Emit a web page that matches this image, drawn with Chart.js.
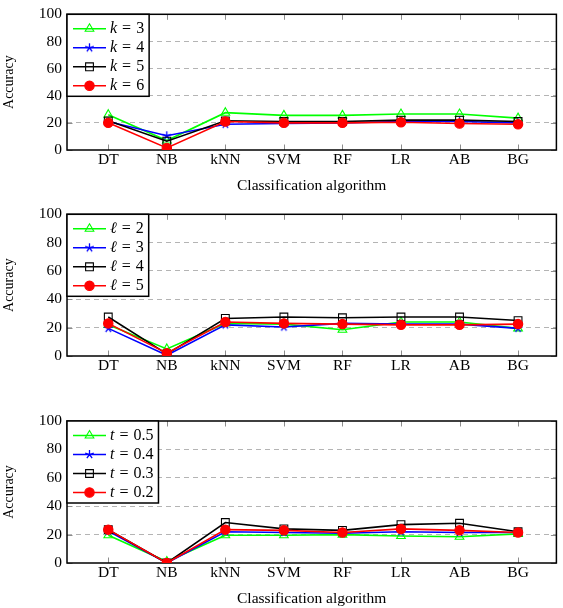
<!DOCTYPE html>
<html>
<head>
<meta charset="utf-8">
<script src="https://cdn.jsdelivr.net/npm/chart.js@4.4.0/dist/chart.umd.min.js"></script>
<style>
  html, body { margin: 0; padding: 0; background: #fff; }
  canvas { position: absolute; left: 0; }
</style>
</head>
<body>
<canvas id="c1" width="563" height="200" style="top:0px"></canvas>
<canvas id="c2" width="563" height="180" style="top:200px"></canvas>
<canvas id="c3" width="563" height="228" style="top:380px"></canvas>
<script>
// x categories and y ticks shared by the three panels
const categories = ['DT', 'NB', 'kNN', 'SVM', 'RF', 'LR', 'AB', 'BG'];
const yTicks = [0, 20, 40, 60, 80, 100];

// panel 1: k
const kValues = ['3', '4', '5', '6'];
const k3 = [26, 7, 27.5, 25.5, 25.5, 26.5, 26.5, 23.5];
const k4 = [21, 10.5, 19, 19.5, 20, 21, 21, 20];
const k5 = [21.5, 6.5, 21.5, 21, 21, 22, 22, 21];
const k6 = [20, 1.5, 21, 20, 20, 20.5, 19.5, 19];

// panel 2: l
const lValues = ['2', '3', '4', '5'];
const l2 = [22, 5, 23, 22.5, 18.5, 24, 24, 19.5];
const l3 = [19.5, 0.5, 22, 20.5, 23, 22.5, 22.5, 19.5];
const l4 = [27.5, 1.5, 26.5, 27.5, 27, 27.5, 27.5, 25];
const l5 = [23, 2, 24, 23, 22.5, 22, 22, 22.5];

// panel 3: t
const tValues = ['0.5', '0.4', '0.3', '0.2'];
const t05 = [19.5, 1, 19.5, 19.5, 20, 19, 18.5, 20.5];
const t04 = [22.5, 0, 22, 21.5, 21, 22, 21.5, 21.5];
const t03 = [23.5, 0, 28.5, 24, 23, 27, 28, 22];
const t02 = [23.5, 0, 23.5, 23, 21.5, 24, 23, 21.5];

const SERIF = "'Liberation Serif', 'DejaVu Serif', 'Times New Roman', serif";
const colors = ['#00ff00', '#0000ff', '#000000', '#ff0000'];

// pgfplots-like five armed star for the second series
function starMark(color) {
  const c = document.createElement('canvas');
  c.width = 11; c.height = 11;
  const g = c.getContext('2d');
  g.strokeStyle = color;
  g.lineWidth = 1.3;
  g.beginPath();
  for (let i = 0; i < 5; i++) {
    const ang = -Math.PI / 2 + i * 2 * Math.PI / 5;
    g.moveTo(5.5, 5.5);
    g.lineTo(5.5 + 4.5 * Math.cos(ang), 5.5 + 4.5 * Math.sin(ang));
  }
  g.stroke();
  return c;
}

const marks = ['triangle', starMark('#0000ff'), 'rect', 'circle'];
const markRadius = [5, 4.5, 5.5, 4.7];
const markFill = ['rgba(0,0,0,0)', '#0000ff', 'rgba(0,0,0,0)', '#ff0000'];

const framePlugin = {
  id: 'frame',
  beforeDatasetsDraw(chart) {
    const { ctx, chartArea: a, scales } = chart;
    ctx.save();
    ctx.strokeStyle = '#8c8c8c';
    ctx.lineWidth = 1;
    ctx.beginPath();
    categories.forEach((c, i) => {
      const x = Math.round(scales.x.getPixelForValue(i)) + 0.5;
      ctx.moveTo(x, a.bottom); ctx.lineTo(x, a.bottom - 5.5);
      ctx.moveTo(x, a.top); ctx.lineTo(x, a.top + 5.5);
    });
    yTicks.forEach(v => {
      const y = Math.round(scales.y.getPixelForValue(v)) + 0.5;
      ctx.moveTo(a.left, y); ctx.lineTo(a.left + 5.5, y);
      ctx.moveTo(a.right, y); ctx.lineTo(a.right - 5.5, y);
    });
    ctx.stroke();
    ctx.strokeStyle = '#000';
    ctx.lineWidth = 1.5;
    ctx.strokeRect(a.left, a.top, a.width, a.height);
    ctx.restore();
  }
};

const texLegend = {
  id: 'texLegend',
  afterDatasetsDraw(chart, args, opts) {
    const { ctx, chartArea: a } = chart;
    const fs = 16;
    const italic = `italic ${fs}px ${SERIF}`;
    const normal = `${fs}px ${SERIF}`;
    ctx.save();
    ctx.font = italic;
    const varW = ctx.measureText(opts.varName).width;
    ctx.font = normal;
    const eqW = ctx.measureText('=').width;
    let textW = 0;
    opts.values.forEach(v => {
      textW = Math.max(textW, varW + 5 + eqW + 5 + ctx.measureText(v).width);
    });
    const x0 = a.left, y0 = a.top, w = 43 + textW + 5, h = 82;
    ctx.fillStyle = '#fff';
    ctx.fillRect(x0, y0, w, h);
    ctx.strokeStyle = '#000';
    ctx.lineWidth = 1.5;
    ctx.strokeRect(x0, y0, w, h);
    chart.data.datasets.forEach((ds, i) => {
      const y = y0 + 14.5 + i * 19;
      ctx.strokeStyle = ds.borderColor;
      ctx.lineWidth = ds.borderWidth;
      ctx.beginPath();
      ctx.moveTo(x0 + 6, y); ctx.lineTo(x0 + 39, y);
      ctx.stroke();
      ctx.fillStyle = ds.pointBackgroundColor;
      ctx.strokeStyle = ds.pointBorderColor;
      ctx.lineWidth = ds.pointBorderWidth;
      Chart.helpers.drawPoint(ctx, {
        pointStyle: ds.pointStyle, radius: ds.pointRadius, rotation: 0, borderWidth: ds.pointBorderWidth
      }, x0 + 22.5, y);
      ctx.fillStyle = '#000';
      ctx.textBaseline = 'middle';
      ctx.textAlign = 'left';
      let tx = x0 + 43;
      ctx.font = italic;
      ctx.fillText(opts.varName, tx, y);
      tx += varW + 5;
      ctx.font = normal;
      ctx.fillText('=', tx, y);
      tx += eqW + 5;
      ctx.fillText(opts.values[i], tx, y);
    });
    ctx.restore();
  }
};

function makePanel(id, series, varName, values, padTop, xHeight, xTitle, titlePad) {
  const datasets = series.map((vals, i) => ({
    data: vals.map((v, j) => ({ x: j, y: v })),
    borderColor: colors[i],
    borderWidth: 1.6,
    pointStyle: marks[i],
    pointRadius: markRadius[i],
    pointBackgroundColor: markFill[i],
    pointBorderColor: colors[i],
    pointBorderWidth: 1.1,
    fill: false,
    tension: 0,
    order: 4 - i
  }));
  new Chart(document.getElementById(id), {
    type: 'line',
    data: { datasets },
    plugins: [framePlugin, texLegend],
    options: {
      responsive: false,
      animation: false,
      events: [],
      layout: { padding: { top: padTop, right: 6, left: 0, bottom: 0 } },
      plugins: {
        legend: { display: false },
        tooltip: { enabled: false },
        texLegend: { varName, values }
      },
      scales: {
        x: {
          type: 'linear',
          min: -0.705,
          max: 7.655,
          afterBuildTicks: s => { s.ticks = categories.map((c, i) => ({ value: i })); },
          ticks: {
            callback: v => categories[v],
            font: { family: SERIF, size: 15.5 },
            color: '#000',
            padding: 1,
            maxRotation: 0,
            autoSkip: false
          },
          grid: { display: false, drawTicks: false },
          border: { display: false },
          title: {
            display: xTitle,
            text: 'Classification algorithm',
            font: { family: SERIF, size: 15.5 },
            color: '#000',
            padding: { top: 0, bottom: titlePad }
          },
          afterFit: s => { s.height = xHeight; }
        },
        y: {
          min: 0,
          max: 100,
          afterBuildTicks: s => { s.ticks = yTicks.map(v => ({ value: v })); },
          ticks: {
            font: { family: SERIF, size: 15.5 },
            color: '#000',
            padding: 5
          },
          grid: {
            drawTicks: false,
            lineWidth: 1,
            color: c => (c.tick && (c.tick.value === 0 || c.tick.value === 100)) ? 'rgba(0,0,0,0)' : '#b4b4b4'
          },
          border: { display: false, dash: [5, 4] },
          title: {
            display: true,
            text: 'Accuracy',
            font: { family: SERIF, size: 14 },
            color: '#000',
            padding: { top: 1, bottom: 0 }
          },
          afterFit: s => { s.width = 67; }
        }
      }
    }
  });
}

makePanel('c1', [k3, k4, k5, k6], 'k', kValues, 7, 50, true, 4.7);
makePanel('c2', [l2, l3, l4, l5], 'ℓ', lValues, 14, 24, false, 0);
makePanel('c3', [t05, t04, t03, t02], 't', tValues, 41, 45, true, 0);
</script>
</body>
</html>
